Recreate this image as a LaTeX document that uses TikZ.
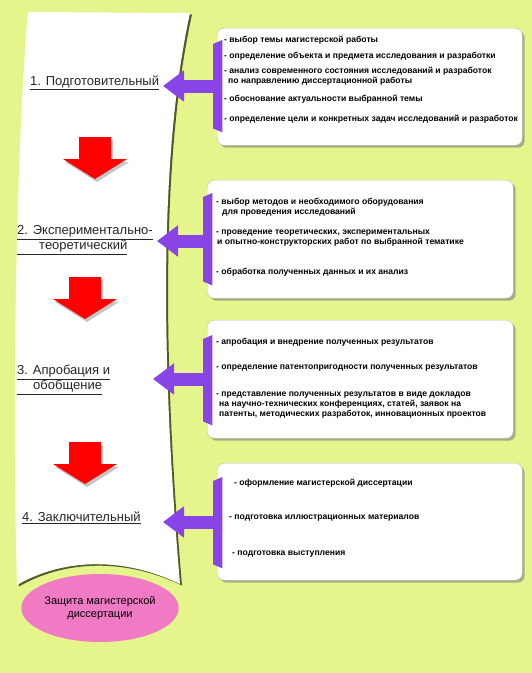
\documentclass[tikz,border=0pt]{standalone}
\usepackage{fontspec}
\setmainfont{Liberation Sans}
\usetikzlibrary{shapes.geometric, arrows.meta, shadows}
\definecolor{bgcol}{RGB}{229,245,140}
\definecolor{violetbar}{RGB}{136,68,228}
\definecolor{pinkoval}{RGB}{240,122,196}
\definecolor{papershade}{RGB}{84,88,40}
\tikzstyle{infobox} = [rectangle, rounded corners=7pt, anchor=north west, draw=gray!50, fill=white, drop shadow={shadow xshift=2.5pt, shadow yshift=-2.5pt, opacity=.6}]
\tikzstyle{item} = [anchor=west, align=left, inner sep=0pt, font=\bfseries\fontsize{8.6}{9.8}\selectfont]
\tikzstyle{stage} = [anchor=west, align=left, inner sep=0pt, text=black!85, font=\fontsize{13}{15}\selectfont]
\tikzstyle{bar} = [rectangle, anchor=north west, inner sep=0pt, minimum width=9pt]
\tikzstyle{arrow} = [line width=13pt, violetbar, -{Triangle[width=30pt,length=21pt]}]
\tikzstyle{downarrow} = [fill=red, drop shadow={shadow xshift=2pt, shadow yshift=-3pt, opacity=.45}]
\tikzstyle{oval} = [ellipse, fill=pinkoval, minimum width=157pt, minimum height=68pt, align=center, inner sep=0pt, font=\fontsize{11}{13}\selectfont]

\begin{document}
\begin{tikzpicture}[x=1pt, y=-1pt]
\useasboundingbox (0,0) rectangle (532,673);
\fill[bgcol] (0,0) rectangle (532,673);

% defence oval under the sheet
\node (defense) [oval] at (100,608) {Защита магистерской\\диссертации};

% the sheet with its shadow
\fill[papershade, xshift=2pt, yshift=-1.5pt] (28,12) -- (190,13) .. controls (160,150) and (160,350) .. (180,584) .. controls (120,555) and (60,560) .. (17,585) .. controls (12,400) and (16,150) .. (28,12) -- cycle;
\fill[white] (28,12) -- (190,13) .. controls (160,150) and (160,350) .. (180,584) .. controls (120,555) and (60,560) .. (17,585) .. controls (12,400) and (16,150) .. (28,12) -- cycle;

% red arrows between stages
\foreach \cx/\ty in {95/137, 85/277, 85/442}
  \fill[downarrow] (\cx-16,\ty) -- (\cx+16,\ty) -- (\cx+16,\ty+22) -- (\cx+32,\ty+22) -- (\cx,\ty+42) -- (\cx-32,\ty+22) -- (\cx-16,\ty+22) -- cycle;

% stages
\node (st1) [stage] at (30,83) {\underline{1. Подготовительный}};
\node (st2) [stage] at (17,240) {\underline{2. Экспериментально-}\\\underline{\hspace*{22pt}теоретический}};
\node (st3) [stage] at (17,380) {\underline{3. Апробация и}\\\underline{\hspace*{16pt}обобщение}};
\node (st4) [stage] at (22,518) {\underline{4. Заключительный}};

% boxes
\node (box1) [infobox, minimum width=305pt, minimum height=117pt] at (217,28) {};
\node (box2) [infobox, minimum width=306pt, minimum height=118pt] at (207,180) {};
\node (box3) [infobox, minimum width=306pt, minimum height=118pt] at (207,320) {};
\node (box4) [infobox, minimum width=305pt, minimum height=117pt] at (217,463) {};

% violet bars
\node (bar1) [bar, minimum height=92pt] at (213,40) {};
\node (bar2) [bar, minimum height=92pt] at (203,193) {};
\node (bar3) [bar, minimum height=90pt] at (203,335) {};
\node (bar4) [bar, minimum height=91pt] at (213,477) {};
\foreach \b in {bar1, bar2, bar3, bar4}
  \fill[violetbar] (\b.north east) -- (\b.south east) -- ([yshift=4pt]\b.south west) -- ([yshift=-4pt]\b.north west) -- cycle;

% arrow tips
\coordinate (tip1) at (163,86);
\coordinate (tip2) at (157,241);
\coordinate (tip3) at (153,379);
\coordinate (tip4) at (163,522);
\draw [arrow] (bar1.west |- tip1) -- (tip1);
\draw [arrow] (bar2.west |- tip2) -- (tip2);
\draw [arrow] (bar3.west |- tip3) -- (tip3);
\draw [arrow] (bar4.west |- tip4) -- (tip4);

% box 1
\node (i11) [item] at (224,40) {- выбор темы магистерской работы};
\node (i12) [item] at (224,56) {- определение объекта и предмета исследования и разработки};
\node (i13) [item] at (224,76) {- анализ современного состояния исследований и разработок\\\hspace*{4pt}по направлению диссертационной работы};
\node (i14) [item] at (224,99) {- обоснование актуальности выбранной темы};
\node (i15) [item] at (224,119) {- определение цели и конкретных задач исследований и разработок};

% box 2
\node (i21) [item] at (216,207) {- выбор методов и необходимого оборудования\\\hspace*{6pt}для проведения исследований};
\node (i22) [item] at (216,238) {- проведение теоретических, экспериментальных\\\hspace*{1pt}и опытно-конструкторских работ по выбранной тематике};
\node (i23) [item] at (216,272) {- обработка полученных данных и их анализ};

% box 3
\node (i31) [item] at (216,342) {- апробация и внедрение полученных результатов};
\node (i32) [item] at (216,368) {- определение патентопригодности полученных результатов};
\node (i33) [item] at (216,405) {- представление полученных результатов в виде докладов\\\hspace*{3pt}на научно-технических конференциях, статей, заявок на\\\hspace*{3pt}патенты, методических разработок, инновационных проектов};

% box 4
\node (i41) [item] at (234,483) {- оформление магистерской диссертации};
\node (i42) [item] at (229,518) {- подготовка иллюстрационных материалов};
\node (i43) [item] at (232,554) {- подготовка выступления};
\end{tikzpicture}
\end{document}
